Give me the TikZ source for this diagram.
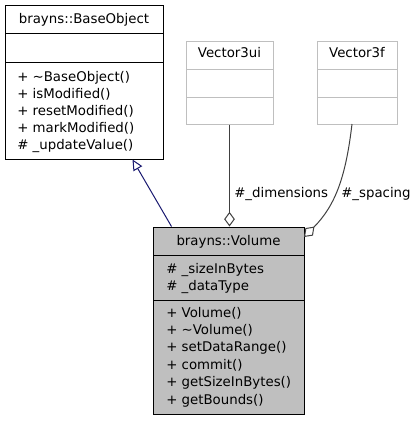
\documentclass[tikz,border=0pt]{standalone}
\usepackage{fontspec}
\setmainfont{DejaVu Sans}
\usetikzlibrary{arrows.meta,fit,calc}
\definecolor{volfill}{HTML}{BFBFBF}
\definecolor{lightborder}{HTML}{BFBFBF}
\definecolor{inhcol}{HTML}{191970}
\definecolor{usecol}{HTML}{404040}
\tikzset{
  classbox/.style={draw=black, line width=0.75pt, inner sep=0pt, fit={#1}},
  ghostbox/.style={draw=lightborder, line width=0.75pt, inner sep=0pt, fit={#1}},
  txt/.style={inner sep=0pt, anchor=base west, font=\fontsize{10}{12}\selectfont},
  ttl/.style={inner sep=0pt, anchor=base, font=\fontsize{10}{12}\selectfont},
  inherit/.style={draw=inhcol, line width=0.75pt, -{Triangle[open, length=8pt, width=7.5pt, fill=white]}},
  usage/.style={draw=usecol, line width=0.75pt, -{Diamond[open, length=11pt, width=8pt, fill=white]}},
  lbl/.style={inner sep=0pt, anchor=base west, font=\fontsize{10}{12}\selectfont}
}
\begin{document}
\begin{tikzpicture}[x=0.75pt, y=-0.75pt]
\useasboundingbox (0,0) rectangle (415,421);
% BaseObject
\node[classbox={(5,5) (163,159)}] (base) {};
\draw[line width=0.75pt] (5,33) -- (163,33);
\draw[line width=0.75pt] (5,62) -- (163,62);
\node[ttl] (baset) at (84,23) {brayns::BaseObject};
\foreach \t [count=\i] in {+ \textasciitilde BaseObject(), + isModified(), + resetModified(), + markModified(), \# \_updateValue()}
  \node[txt] (bm\i) at (17,{81+(\i-1)*17.2}) {\t};
% Vector3ui
\node[ghostbox={(186,41) (273,124)}] (vui) {};
\draw[draw=lightborder, line width=0.75pt] (186,69) -- (273,69);
\draw[draw=lightborder, line width=0.75pt] (186,97) -- (273,97);
\node[ttl] (vuit) at (229.5,57) {Vector3ui};
% Vector3f
\node[ghostbox={(317,41) (397,124)}] (vf) {};
\draw[draw=lightborder, line width=0.75pt] (317,69) -- (397,69);
\draw[draw=lightborder, line width=0.75pt] (317,97) -- (397,97);
\node[ttl] (vft) at (357,57) {Vector3f};
% Volume
\node[classbox={(153,227) (304,414)}, fill=volfill] (vol) {};
\draw[line width=0.75pt] (153,255) -- (304,255);
\draw[line width=0.75pt] (153,300) -- (304,300);
\node[ttl] (volt) at (228.5,245) {brayns::Volume};
\node[txt] (va1) at (166,273) {\# \_sizeInBytes};
\node[txt] (va2) at (166,290) {\# \_dataType};
\foreach \t [count=\i] in {+ Volume(), + \textasciitilde Volume(), + setDataRange(), + commit(), + getSizeInBytes(), + getBounds()}
  \node[txt] (vm\i) at (166,{317+(\i-1)*17.4}) {\t};
% connectors
\coordinate (inhS) at ($(vol.north west)+(19,0)$);
\coordinate (inhE) at ($(base.south west)+(128,0)$);
\draw[inherit] (inhS) -- (inhE);
\draw[usage] (vui.south) -- (vui.south |- vol.north);
\coordinate (spS) at (352,124);
\coordinate (spE) at (304,237);
\draw[usage] (spS) .. controls (346,175) and (336,205) .. (spE);
\node[lbl] (ldim) at (234,197) {\#\_dimensions};
\node[lbl] (lsp) at (341,197) {\#\_spacing};
\end{tikzpicture}
\end{document}
